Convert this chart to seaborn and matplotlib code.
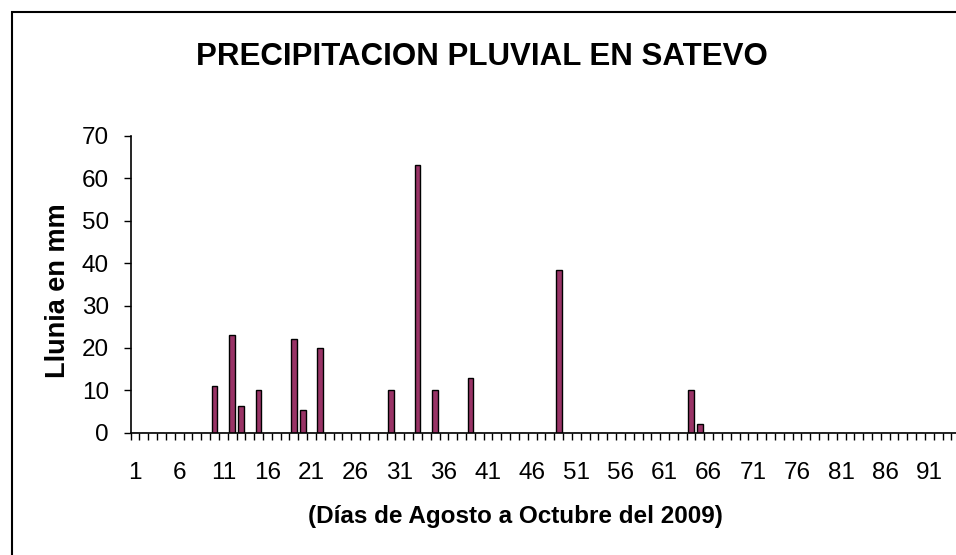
import numpy as np
import pandas as pd
import seaborn as sns
import matplotlib.pyplot as plt
from matplotlib.ticker import FixedLocator
from matplotlib.patches import Rectangle

# ---- data ----
days = list(range(1, 96))
rain_days = [10, 12, 13, 15, 19, 20, 22, 30, 33, 35, 39, 49, 64, 65]
rain_mm = [11.0, 23.1, 6.3, 10.0, 22.2, 5.4, 20.0, 10.0, 63.1, 10.0, 12.8, 38.3, 10.0, 2.0]
tick_labels = [str(d) for d in range(1, 92, 5)]
y_ticks = [0, 10, 20, 30, 40, 50, 60, 70]

title = "PRECIPITACION PLUVIAL EN SATEVO"
xlabel = "(Días de Agosto a Octubre del 2009)"
ylabel = "Llunia en mm"

rain_map = dict(zip(rain_days, rain_mm))
df = pd.DataFrame({"day": days, "mm": [rain_map.get(d, 0.0) for d in days]})

sns.set_style("white")
plt.rcParams["font.family"] = ["Liberation Sans", "DejaVu Sans"]
plt.rcParams["text.color"] = "black"

W, H = 956, 555
fig = plt.figure(figsize=(W / 100, H / 100), dpi=100)

left_px, right_px = 130.6, 130.6 + len(days) * 8.826
top_px, bot_px = 136.0, 432.7
ax = fig.add_axes([left_px / W, 1 - bot_px / H, (right_px - left_px) / W, (bot_px - top_px) / H])

sns.barplot(data=df, x="day", y="mm", order=days, color="#993366", saturation=1,
            edgecolor="black", linewidth=1.0, width=0.65, ax=ax)

ax.set_xlim(-0.5, len(days) - 0.5)
ax.set_ylim(0, 70)
ax.set_xlabel("")
ax.set_ylabel("")

# x ticks: labels every 5 days, minor tick marks at category boundaries
ax.xaxis.set_major_locator(FixedLocator(list(range(0, 91, 5))))
ax.set_xticklabels(tick_labels)
ax.xaxis.set_minor_locator(FixedLocator(list(np.arange(-0.5, len(days), 1.0))))
ax.tick_params(axis="x", which="major", length=0, pad=21, labelsize=17.5,
               colors="black", labelcolor="black")
ax.tick_params(axis="x", which="minor", bottom=True, length=5, width=1.0, direction="out", color="black")

ax.set_yticks(y_ticks)
ax.tick_params(axis="y", which="major", left=True, length=5, width=1.0, direction="out",
               pad=10.5, labelsize=17.5, colors="black", labelcolor="black")

for s in ["top", "right"]:
    ax.spines[s].set_visible(False)
for s in ["left", "bottom"]:
    ax.spines[s].set_color("black")
    ax.spines[s].set_linewidth(1.2)

fig.text(482 / W, 1 - 57 / H, title, ha="center", va="center", fontsize=22.5,
         fontweight="bold", color="black")
fig.text(515 / W, 1 - 516 / H, xlabel, ha="center", va="center", fontsize=17.5,
         fontweight="bold", color="black")
fig.text(58 / W, 1 - 291 / H, ylabel, ha="center", va="center", rotation=90, fontsize=19.5,
         fontweight="bold", color="black")

# outer chart frame (cropped at right/bottom)
fig.patches.append(Rectangle((12 / W, -0.05), 1.2, 1 - 12 / H + 0.05, transform=fig.transFigure,
                             fill=False, edgecolor="black", linewidth=1.5, zorder=0))

fig.savefig("out.png", dpi=100)
